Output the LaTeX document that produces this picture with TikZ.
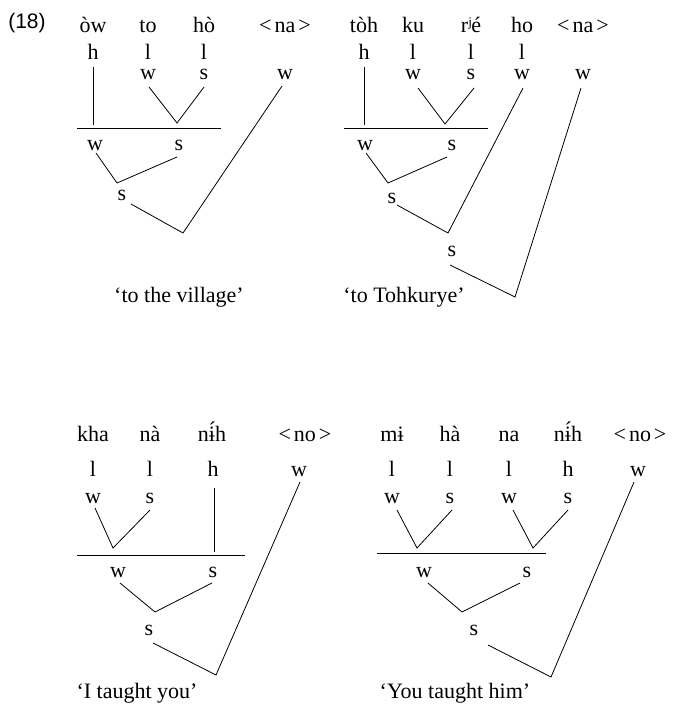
\documentclass[tikz,border=0pt]{standalone}
\usepackage{fontspec}
\setmainfont{Liberation Serif}
\newfontfamily\numsans{Liberation Sans}
\begin{document}
\begin{tikzpicture}[x=1pt,y=-1pt,
  lbl/.style={anchor=base,inner sep=0pt,font=\fontsize{22}{26}\selectfont},
  num/.style={anchor=center,inner sep=0pt,font=\numsans\fontsize{21}{25}\selectfont},
  ln/.style={line width=0.8pt}]
\useasboundingbox (0,0) rectangle (672,706);
\newcommand{\angl}[1]{<\hspace{3pt}#1\hspace{3pt}>}
\node[num] (ex) at (27,23) {(18)};
%% Tree A
\node[lbl] (A1) at (93,33) {òw};
\node[lbl] (A2) at (148,33) {to};
\node[lbl] (A3) at (204,33) {hò};
\node[lbl] (A4) at (285,33) {\angl{na}};
\node[lbl] (At1) at (93,60) {h};
\node[lbl] (At2) at (148,60) {l};
\node[lbl] (At3) at (204,60) {l};
\node[lbl] (Am2) at (148,80) {w};
\node[lbl] (Am3) at (204,80) {s};
\node[lbl] (Am4) at (285,80) {w};
\node[lbl] (Ab1) at (95,150) {w};
\node[lbl] (Ab2) at (179,150) {s};
\node[lbl] (Ar) at (122,200) {s};
\node[lbl] (Acap) at (179,302) {‘to the village’};
\coordinate (Ah1) at (93,67); \coordinate (Ah2) at (93,125);
\coordinate (Aw2) at (149,87); \coordinate (Av1) at (177,123); \coordinate (As3) at (204,87);
\coordinate (AL) at (77,128); \coordinate (AR) at (221,128);
\coordinate (Aw1) at (96,153); \coordinate (Av2) at (117,183); \coordinate (As1) at (177,157);
\coordinate (As0) at (131,204); \coordinate (Av3) at (183,233); \coordinate (Aw4) at (282,86);
\draw[ln] (Ah1) -- (Ah2);
\draw[ln] (Aw2) -- (Av1) -- (As3);
\draw[ln] (AL) -- (AR);
\draw[ln] (Aw1) -- (Av2) -- (As1);
\draw[ln] (As0) -- (Av3) -- (Aw4);
%% Tree B
\node[lbl] (B1) at (364,33) {tòh};
\node[lbl] (B2) at (413,33) {ku};
\node[lbl] (B3) at (471,33) {rʲé};
\node[lbl] (B4) at (522,33) {ho};
\node[lbl] (B5) at (583,33) {\angl{na}};
\node[lbl] (Bt1) at (364,60) {h};
\node[lbl] (Bt2) at (413,60) {l};
\node[lbl] (Bt3) at (471,60) {l};
\node[lbl] (Bt4) at (522,60) {l};
\node[lbl] (Bm2) at (413,80) {w};
\node[lbl] (Bm3) at (471,80) {s};
\node[lbl] (Bm4) at (522,80) {w};
\node[lbl] (Bm5) at (583,80) {w};
\node[lbl] (Bb1) at (365,150) {w};
\node[lbl] (Bb2) at (452,150) {s};
\node[lbl] (Br1) at (392,203) {s};
\node[lbl] (Br2) at (452,256) {s};
\node[lbl] (Bcap) at (404,302) {‘to Tohkurye’};
\coordinate (Bh1) at (364,67); \coordinate (Bh2) at (364,125);
\coordinate (Bw2) at (418,88); \coordinate (Bv1) at (445,124); \coordinate (Bs3) at (474,88);
\coordinate (BL) at (344,128); \coordinate (BR) at (488,128);
\coordinate (Bw1) at (366,153); \coordinate (Bv2) at (388,183); \coordinate (Bs1) at (447,157);
\coordinate (Bs0) at (397,205); \coordinate (Bv3) at (448,233); \coordinate (Bw4) at (523,88);
\coordinate (Bs5) at (450,265); \coordinate (Bv4) at (515,297); \coordinate (Bw5) at (581,88);
\draw[ln] (Bh1) -- (Bh2);
\draw[ln] (Bw2) -- (Bv1) -- (Bs3);
\draw[ln] (BL) -- (BR);
\draw[ln] (Bw1) -- (Bv2) -- (Bs1);
\draw[ln] (Bs0) -- (Bv3) -- (Bw4);
\draw[ln] (Bs5) -- (Bv4) -- (Bw5);
%% Tree C
\node[lbl] (C1) at (93,441) {kha};
\node[lbl] (C2) at (150,441) {nà};
\node[lbl] (C3) at (212,441) {nɨ́h};
\node[lbl] (C4) at (305,441) {\angl{no}};
\node[lbl] (Ct1) at (93,476) {l};
\node[lbl] (Ct2) at (150,476) {l};
\node[lbl] (Ct3) at (213,476) {h};
\node[lbl] (Ct4) at (299,476) {w};
\node[lbl] (Cm1) at (93,503) {w};
\node[lbl] (Cm2) at (150,503) {s};
\node[lbl] (Cb1) at (118,577) {w};
\node[lbl] (Cb2) at (213,577) {s};
\node[lbl] (Cr) at (149,635) {s};
\node[lbl] (Ccap) at (137,698) {‘I taught you’};
\coordinate (Cw1) at (95,508); \coordinate (Cv1) at (113,548); \coordinate (Cs2) at (150,510);
\coordinate (Ch1) at (214,488); \coordinate (Ch2) at (214,552);
\coordinate (CL) at (77,555); \coordinate (CR) at (245,555);
\coordinate (Cw3) at (120,583); \coordinate (Cv2) at (155,612); \coordinate (Cs3) at (212,583);
\coordinate (Cs0) at (153,643); \coordinate (Cv3) at (216,675); \coordinate (Cw4) at (300,482);
\draw[ln] (Cw1) -- (Cv1) -- (Cs2);
\draw[ln] (Ch1) -- (Ch2);
\draw[ln] (CL) -- (CR);
\draw[ln] (Cw3) -- (Cv2) -- (Cs3);
\draw[ln] (Cs0) -- (Cv3) -- (Cw4);
%% Tree D
\node[lbl] (D1) at (392,441) {mɨ};
\node[lbl] (D2) at (450,441) {hà};
\node[lbl] (D3) at (509,441) {na};
\node[lbl] (D4) at (568,441) {nɨ́h};
\node[lbl] (D5) at (640,441) {\angl{no}};
\node[lbl] (Dt1) at (392,476) {l};
\node[lbl] (Dt2) at (450,476) {l};
\node[lbl] (Dt3) at (509,476) {l};
\node[lbl] (Dt4) at (568,476) {h};
\node[lbl] (Dt5) at (638,476) {w};
\node[lbl] (Dm1) at (392,503) {w};
\node[lbl] (Dm2) at (450,503) {s};
\node[lbl] (Dm3) at (509,503) {w};
\node[lbl] (Dm4) at (568,503) {s};
\node[lbl] (Db1) at (424,577) {w};
\node[lbl] (Db2) at (527,577) {s};
\node[lbl] (Dr) at (474,635) {s};
\node[lbl] (Dcap) at (455,698) {‘You taught him’};
\coordinate (Dw1) at (397,510); \coordinate (Dv1) at (417,548); \coordinate (Ds2) at (452,510);
\coordinate (Dw3) at (513,510); \coordinate (Dv2) at (533,548); \coordinate (Ds4) at (568,510);
\coordinate (DL) at (377,553); \coordinate (DR) at (546,553);
\coordinate (Dw5) at (428,583); \coordinate (Dv3) at (462,612); \coordinate (Ds6) at (520,583);
\coordinate (Ds0) at (488,645); \coordinate (Dv4) at (551,677); \coordinate (Dw6) at (634,482);
\draw[ln] (Dw1) -- (Dv1) -- (Ds2);
\draw[ln] (Dw3) -- (Dv2) -- (Ds4);
\draw[ln] (DL) -- (DR);
\draw[ln] (Dw5) -- (Dv3) -- (Ds6);
\draw[ln] (Ds0) -- (Dv4) -- (Dw6);
\end{tikzpicture}
\end{document}
